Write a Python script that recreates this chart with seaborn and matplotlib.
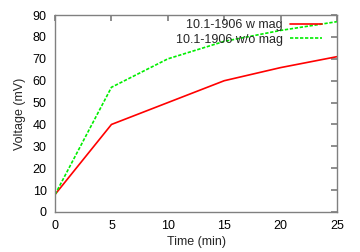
import numpy as np
import pandas as pd
import matplotlib
matplotlib.use("Agg")
import matplotlib.pyplot as plt
import seaborn as sns

# data
time_min = [0, 5, 10, 15, 20, 25]
v_with_mag = [8, 40, 50, 60, 66, 71]
v_without_mag = [8, 57, 70, 78, 83, 87]
labels = ["10.1-1906 w mag", "10.1-1906 w/o mag"]

df = pd.DataFrame({
    "Time (min)": time_min * 2,
    "Voltage (mV)": v_with_mag + v_without_mag,
    "series": [labels[0]] * len(time_min) + [labels[1]] * len(time_min),
})

sns.set_theme(style="white")
plt.rcParams["font.family"] = ["Liberation Sans", "DejaVu Sans"]
plt.rcParams["font.size"] = 9

fig = plt.figure(figsize=(3.6, 2.52), dpi=100)
ax = fig.add_axes([0.153, 0.159, 0.783, 0.781])

sns.lineplot(data=df, x="Time (min)", y="Voltage (mV)", hue="series",
             style="series", palette=["#ff0000", "#00ee00"],
             dashes=[(None, None), (2, 1)], linewidth=1.2, ax=ax)

ax.set_xlim(0, 25)
ax.set_ylim(0, 90)
ax.set_xticks(np.arange(0, 26, 5))
ax.set_yticks(np.arange(0, 91, 10))
ax.tick_params(direction="in", length=4, color="#808080", labelsize=9,
               top=True, right=True, labelcolor="black", pad=6)
for s in ax.spines.values():
    s.set_color("#808080")
    s.set_linewidth(1.0)
ax.set_xlabel("Time (min)", fontsize=9, labelpad=2.5)
ax.set_ylabel("Voltage (mV)", fontsize=9, labelpad=5)

leg = ax.legend(loc="upper right", bbox_to_anchor=(0.965, 1.005),
                frameon=False, markerfirst=False,
                fontsize=9, handlelength=2.6, borderaxespad=0,
                labelspacing=0.2, handletextpad=0.55)

fig.savefig("out.png", dpi=100)
